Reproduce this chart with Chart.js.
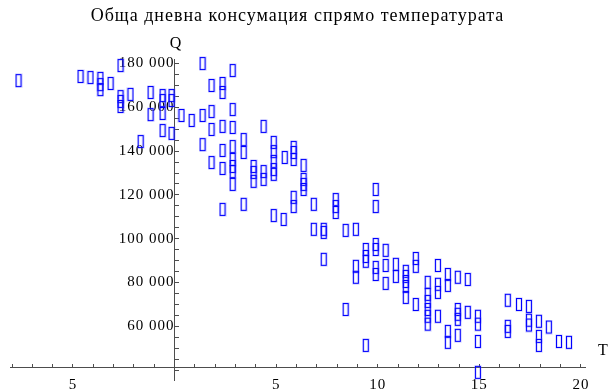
<!DOCTYPE html>
<html>
<head>
<meta charset="utf-8">
<script src="https://cdn.jsdelivr.net/npm/chart.js@4.4.0/dist/chart.umd.min.js"></script>
<style>
  html, body { margin: 0; padding: 0; background: #fff; }
</style>
</head>
<body>
<canvas id="chart" width="613" height="391"></canvas>
<script>
const chartTitle = 'Обща дневна консумация спрямо температурата';
const xAxisTitle = 'T';
const yAxisTitle = 'Q';
const xLabelled = [-5, 5, 10, 15, 20];
const yLabelled = [60000, 80000, 100000, 120000, 140000, 160000, 180000];

// daily temperature (T) and total daily consumption (Q)
const temperature = [
    -7.68, -4.63, -4.14, -3.65, -3.65, -3.65, -3.15, -2.66, -2.66, -2.66, -2.66, -2.17,
    -1.67, -1.18, -1.18, -0.59, -0.59, -0.59, -0.59, -0.15, -0.15, -0.15, 0.34, 0.84,
    1.38, 2.86, 1.82, 2.36, 2.36, 1.38, 1.82, 2.86, 1.82, 2.36, 2.86, 4.38,
    1.38, 3.40, 3.40, 2.36, 2.86, 2.86, 2.86, 2.86, 2.86, 1.82, 2.36, 2.36,
    4.88, 4.88, 4.88, 4.88, 4.88, 3.89, 3.89, 3.89, 4.38, 4.38, 5.42, 5.86,
    5.86, 5.86, 6.35, 6.35, 6.35, 6.35, 3.40, 5.86, 5.86, 6.85, 7.93, 7.93,
    7.93, 4.88, 5.37, 6.85, 7.34, 7.34, 8.42, 8.92, 9.90, 9.90,
    7.34, 9.41, 9.41, 9.41, 9.90, 9.90, 9.90, 9.90, 10.39, 10.39, 10.39, 8.92,
    8.92, 10.89, 10.89, 11.38, 11.38, 11.38, 11.38, 11.38, 11.87, 11.87, 11.87,
    12.46, 12.46, 12.46, 12.46, 12.46, 12.46, 12.96, 12.96, 12.96, 12.96,
    13.45, 13.45, 13.45, 13.45, 13.94, 13.94, 13.94, 13.94, 13.94, 14.43, 14.43,
    14.93, 14.93, 14.93, 14.93, 8.42, 9.41, 16.40, 16.40, 16.40, 16.95,
    17.44, 17.44, 17.44, 17.93, 17.93, 17.93, 18.42, 18.92, 19.41
];
const consumption = [
    172200, 174100, 173600, 173200, 170400, 168100, 170900, 179100, 164900, 162700, 160400, 165900,
    144400, 166800, 156700, 165400, 163100, 157200, 149400, 165400, 163100, 148100, 156300, 154000,
    180000, 176800, 170000, 170900, 166800, 156300, 158100, 159000, 149900, 151300, 150800, 151300,
    143000, 145300, 139400, 140300, 142100, 136200, 133000, 130700, 124800, 134800, 132100, 113400,
    144000, 139800, 135300, 131600, 129400, 133000, 130300, 126200, 130700, 127100, 137100, 141700,
    139400, 136200, 133500, 127100, 124800, 122500, 115700, 118900, 114700, 115700, 117900, 114700,
    112000, 110600, 108800, 104300, 104300, 102900, 103800, 104300, 122500, 114700,
    90600, 95100, 91900, 89700, 97400, 95100, 86900, 83700, 94700, 87800, 79600, 87400,
    82400, 88300, 82800, 85100, 82800, 80500, 78200, 73200, 91000, 87400, 70000,
    80100, 74600, 71400, 67700, 64600, 61000, 87800, 79200, 75500, 64600,
    83700, 78700, 57700, 52700, 82400, 67700, 65500, 63200, 55900, 81400, 66400,
    64600, 61000, 53100, 39000, 67700, 51300, 71900, 60000, 57700, 70000,
    69100, 62800, 60600, 62300, 55400, 51300, 59700, 53100, 52700
];

const serif = '"Liberation Serif", "Times New Roman", serif';
const axisColor = '#4d4d4d';
const xCross = 41000;

function makeMarker() {
    const c = document.createElement('canvas');
    c.width = 8;
    c.height = 15;
    const g = c.getContext('2d');
    g.strokeStyle = 'rgba(110, 110, 255, 0.45)';
    g.lineWidth = 2;
    g.strokeRect(1.5, 1.5, 5, 12);
    g.strokeStyle = '#0000ff';
    g.lineWidth = 1;
    g.strokeRect(1.5, 1.5, 5, 12);
    return c;
}

function spaced(v) {
    return String(v).replace(/\B(?=(\d{3})+(?!\d))/g, ' ');
}

// minor ticks every 1 on T and every 5000 on Q
function stepTicks(from, to, step) {
    return scale => {
        scale.ticks = [];
        for (let v = from; v <= to; v += step) scale.ticks.push({value: v});
    };
}

const noPadding = scale => {
    scale.paddingTop = 0;
    scale.paddingBottom = 0;
    scale.paddingLeft = 0;
    scale.paddingRight = 0;
};

// loose title spacing like the original, plus the Q / T axis names
const extras = {
    id: 'extras',
    beforeDraw(chart) { chart.ctx.letterSpacing = '1px'; },
    afterDatasetsDraw(chart) { chart.ctx.letterSpacing = '0.3px'; },
    afterDraw(chart) {
        const {ctx, chartArea, scales} = chart;
        ctx.save();
        ctx.letterSpacing = '0px';
        ctx.font = '16px ' + serif;
        ctx.fillStyle = '#000';
        ctx.textAlign = 'center';
        ctx.textBaseline = 'middle';
        ctx.fillText(yAxisTitle, scales.x.getPixelForValue(0) + 1, chartArea.top - 16);
        ctx.fillText(xAxisTitle, chartArea.right + 18, scales.y.getPixelForValue(xCross) - 17);
        ctx.restore();
    }
};

new Chart(document.getElementById('chart'), {
    type: 'scatter',
    data: {
        datasets: [{
            data: temperature.map((t, i) => ({x: t, y: consumption[i]})),
            pointStyle: makeMarker(),
            pointRadius: 5,
            clip: false
        }]
    },
    options: {
        responsive: false,
        animation: false,
        layout: {padding: {left: 10, right: 28, top: 0, bottom: 11}},
        plugins: {
            legend: {display: false},
            tooltip: {enabled: false},
            title: {
                display: true,
                text: chartTitle,
                color: '#000',
                font: {family: serif, size: 18, weight: 'normal'},
                padding: {top: 5, bottom: 33}
            }
        },
        scales: {
            x: {
                type: 'linear',
                z: 1,
                position: {y: xCross},
                min: -8.1,
                max: 20.2,
                afterBuildTicks: stepTicks(-8, 20, 1),
                afterFit: noPadding,
                grid: {drawOnChartArea: false, tickLength: -4, color: axisColor},
                border: {color: axisColor, width: 1},
                ticks: {
                    autoSkip: false,
                    maxRotation: 0,
                    padding: 12,
                    color: '#000',
                    font: {family: serif, size: 15},
                    callback: v => xLabelled.includes(v) ? String(Math.abs(v)) : ''
                }
            },
            y: {
                type: 'linear',
                z: 1,
                position: {x: 0},
                min: 35500,
                max: 181800,
                afterBuildTicks: stepTicks(40000, 180000, 5000),
                afterFit: noPadding,
                grid: {drawOnChartArea: false, tickLength: -5, color: axisColor},
                border: {color: axisColor, width: 1},
                ticks: {
                    autoSkip: false,
                    padding: 18,
                    color: '#000',
                    font: {family: serif, size: 15},
                    callback: v => yLabelled.includes(v) ? spaced(v) : ''
                }
            }
        }
    },
    plugins: [extras]
});
</script>
</body>
</html>
